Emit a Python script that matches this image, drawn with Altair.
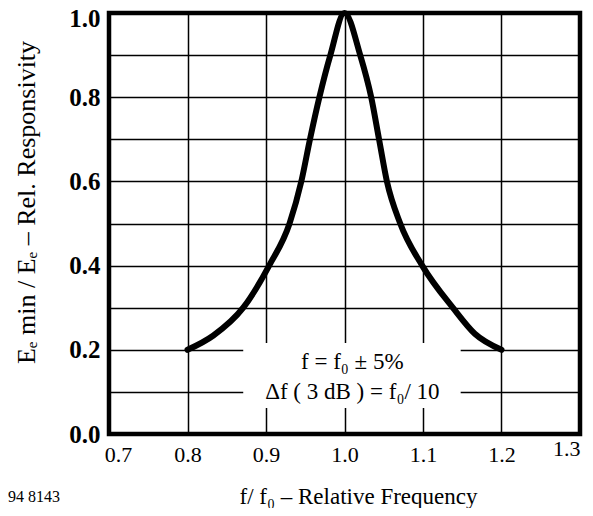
import altair as alt
import pandas as pd

# Curve
freq = [0.80, 0.833, 0.871, 0.904, 0.930, 0.945, 0.956, 0.968, 0.982, 1.000,
        1.020, 1.034, 1.044, 1.054, 1.071, 1.099, 1.138, 1.166, 1.200]
resp = [0.20, 0.234, 0.30, 0.40, 0.50, 0.60, 0.70, 0.80, 0.90, 1.00,
        0.90, 0.80, 0.70, 0.60, 0.50, 0.40, 0.30, 0.238, 0.20]

x_ticks = [0.7, 0.8, 0.9, 1.0, 1.1, 1.2, 1.3]
y_ticks = [0.0, 0.1, 0.2, 0.3, 0.4, 0.5, 0.6, 0.7, 0.8, 0.9, 1.0]

note_lines = ["f = f₀ ± 5%", "Δf ( 3 dB ) = f₀/ 10"]
note_x = [1.01, 1.01]
note_y = [0.17, 0.10]

box = pd.DataFrame({"x": [0.871], "x2": [1.148], "y": [0.062], "y2": [0.216]})
curve = pd.DataFrame({"f": freq, "r": resp})
notes = pd.DataFrame({"t": note_lines, "x": note_x, "y": note_y})

FONT = "Liberation Serif"

xscale = alt.Scale(domain=[0.7, 1.3], nice=False, zero=False)
yscale = alt.Scale(domain=[0.0, 1.0], nice=False)

xaxis = alt.Axis(
    values=x_ticks, format=".1f", grid=True, domain=False, ticks=False,
    labelFont=FONT, labelFontSize=22, labelColor="black", labelFlush=False,
    labelPadding=alt.condition("datum.value > 1.25", alt.value(4), alt.value(10)),
    labelOffset=alt.condition("datum.value < 0.75", alt.value(9),
                              alt.value(0)),
    labelAlign=alt.condition("datum.value > 1.25", alt.value("right"), alt.value("center")),
    labelBaseline="top",
    title="f/ f₀ – Relative Frequency", titleFont=FONT, titleFontSize=23,
    titleFontWeight="normal", titleColor="black",
    titleX=249, titleY=62, titleBaseline="middle", titleAlign="center",
)
yaxis = alt.Axis(
    values=y_ticks, grid=True, domain=False, ticks=False,
    labelExpr="(round(datum.value*10) % 2 == 0) ? format(datum.value, '.1f') : ''",
    labelFont=FONT, labelFontSize=25, labelFontWeight="bold", labelColor="black",
    labelPadding=9, labelBaseline="middle",
    labelOffset=alt.condition("datum.value > 0.95", alt.value(5), alt.value(0)),
    title="Eₑ min  / Eₑ  –  Rel. Responsivity", titleFont=FONT, titleFontSize=26,
    titleFontWeight="normal", titleColor="black", titleAngle=270,
    titleX=-83, titleY=189, titleBaseline="middle", titleAlign="center",
)

base_x = alt.X("f:Q", scale=xscale, axis=xaxis)
base_y = alt.Y("r:Q", scale=yscale, axis=yaxis)

rect = alt.Chart(box).mark_rect(color="white").encode(
    x=alt.X("x:Q", scale=xscale, axis=xaxis), x2="x2:Q",
    y=alt.Y("y:Q", scale=yscale, axis=yaxis), y2="y2:Q",
)

line = alt.Chart(curve).mark_line(
    color="black", strokeWidth=6, interpolate="monotone", strokeCap="round", strokeJoin="round"
).encode(x=base_x, y=base_y)

text = alt.Chart(notes).mark_text(
    font=FONT, fontSize=23, color="black", align="center", baseline="middle"
).encode(x=alt.X("x:Q", scale=xscale), y=alt.Y("y:Q", scale=yscale), text="t:N")

code = alt.Chart(pd.DataFrame({"t": ["94 8143"]})).mark_text(
    font=FONT, fontSize=16, color="black", align="left", baseline="middle"
).encode(x=alt.value(-101), y=alt.value(484), text="t:N")

chart = alt.layer(rect, line, text, code).properties(
    width=471, height=421,
    autosize=alt.AutoSizeParams(type="none"),
    padding={"left": 101, "top": 5, "right": 5, "bottom": 74},
    background="white",
).configure_view(
    stroke="black", strokeWidth=4.5
).configure_axis(
    gridColor="black", gridWidth=1.5, gridOpacity=1
)

chart.save("out.html", embed_options={"renderer": "svg", "actions": False})
